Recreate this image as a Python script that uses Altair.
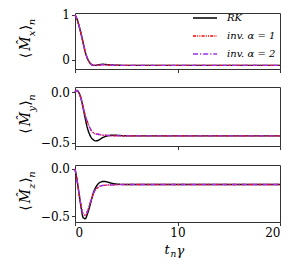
import altair as alt
import pandas as pd

t = [0, 0.2, 0.4, 0.6, 0.8, 1.0, 1.2, 1.4, 1.6, 1.8, 2.0, 2.25, 2.5, 2.75, 3.0,
     3.5, 4.0, 5.0, 6.0, 8.0, 10.0, 12.0, 15.0, 20.0]
series_names = ["RK", "inv. α = 1", "inv. α = 2"]
series_colors = ["#000000", "#ff0000", "#9b30e8"]
series_dashes = [[1, 0], [3, 1.2, 1, 1.2, 1, 1.2], [5, 2, 1.2, 2]]

mx_rk = [1.0, 0.90, 0.75, 0.57, 0.37, 0.18, 0.04, -0.05, -0.10, -0.12, -0.12, -0.11,
         -0.10, -0.095, -0.10, -0.11, -0.115, -0.12, -0.12, -0.12, -0.12, -0.12, -0.12, -0.12]
mx_inv1 = [1.0, 0.90, 0.75, 0.57, 0.37, 0.18, 0.04, -0.05, -0.10, -0.115, -0.12, -0.115,
           -0.11, -0.105, -0.11, -0.115, -0.118, -0.12, -0.12, -0.12, -0.12, -0.12, -0.12, -0.12]
mx_inv2 = [1.0, 0.90, 0.75, 0.57, 0.37, 0.18, 0.04, -0.05, -0.10, -0.115, -0.12, -0.115,
           -0.11, -0.105, -0.11, -0.115, -0.118, -0.12, -0.12, -0.12, -0.12, -0.12, -0.12, -0.12]

my_rk = [0.0, 0.015, -0.01, -0.07, -0.16, -0.26, -0.35, -0.41, -0.45, -0.47, -0.48, -0.475,
         -0.46, -0.445, -0.435, -0.425, -0.425, -0.43, -0.43, -0.43, -0.43, -0.43, -0.43, -0.43]
my_inv1 = [0.0, 0.015, -0.01, -0.065, -0.15, -0.23, -0.29, -0.34, -0.38, -0.40, -0.41, -0.415,
           -0.42, -0.425, -0.425, -0.43, -0.43, -0.43, -0.43, -0.43, -0.43, -0.43, -0.43, -0.43]
my_inv2 = [0.0, 0.015, -0.01, -0.065, -0.15, -0.23, -0.29, -0.34, -0.38, -0.40, -0.41, -0.415,
           -0.42, -0.425, -0.425, -0.43, -0.43, -0.43, -0.43, -0.43, -0.43, -0.43, -0.43, -0.43]

mz_rk = [0.0, -0.12, -0.27, -0.41, -0.515, -0.525, -0.48, -0.41, -0.33, -0.25, -0.20, -0.16,
         -0.14, -0.133, -0.135, -0.15, -0.16, -0.165, -0.165, -0.165, -0.165, -0.165, -0.165, -0.165]
mz_inv1 = [0.0, -0.12, -0.26, -0.39, -0.48, -0.49, -0.45, -0.39, -0.32, -0.26, -0.22, -0.195,
           -0.18, -0.175, -0.172, -0.17, -0.168, -0.165, -0.165, -0.165, -0.165, -0.165, -0.165, -0.165]
mz_inv2 = [0.0, -0.12, -0.26, -0.39, -0.48, -0.49, -0.45, -0.39, -0.32, -0.26, -0.22, -0.195,
           -0.18, -0.175, -0.172, -0.17, -0.168, -0.165, -0.165, -0.165, -0.165, -0.165, -0.165, -0.165]

y_domains = [[-0.2, 1.04], [-0.53, 0.05], [-0.56, 0.04]]
y_ticks = [[0, 1], [0, -0.5], [0, -0.5]]
y_formats = ["d", ".1f", ".1f"]
subs = ["x", "y", "z"]

rows = []
for comp, vals in [("x", (mx_rk, mx_inv1, mx_inv2)),
                   ("y", (my_rk, my_inv1, my_inv2)),
                   ("z", (mz_rk, mz_inv1, mz_inv2))]:
    for name, arr in zip(series_names, vals):
        for ti, vi in zip(t, arr):
            rows.append({"comp": comp, "series": name, "t": ti, "v": vi})
df = pd.DataFrame(rows)

W = 205
HEIGHTS = [56, 59, 57]
SERIF = "DejaVu Serif"


def txt(s, x, y, size=14, italic=False, angle=270):
    return alt.Chart(pd.DataFrame({"s": [s]})).mark_text(
        font=SERIF, fontSize=size, fontStyle="italic" if italic else "normal",
        angle=angle, align="center", baseline="middle", color="black"
    ).encode(text="s:N", x=alt.value(x), y=alt.value(y))


panels = []
for i, comp in enumerate(subs):
    last = i == 2
    first = i == 0
    legend = alt.Legend(
        title=None, orient="none", legendX=123, legendY=-2,
        symbolType="M-2,0H2", symbolSize=144, symbolStrokeWidth=1.5,
        labelFont=SERIF, labelFontStyle="italic", labelFontSize=10,
        labelOffset=15, rowPadding=6, padding=0
    ) if first else None
    lines = alt.Chart(df[df["comp"] == comp]).mark_line(
        strokeWidth=1.4, interpolate="monotone"
    ).encode(
        x=alt.X("t:Q", scale=alt.Scale(domain=[0, 20], nice=False),
                axis=alt.Axis(values=[0, 10, 20], labels=last, title=None,
                              format="d")),
        y=alt.Y("v:Q", scale=alt.Scale(domain=y_domains[i], nice=False, zero=False),
                axis=alt.Axis(values=y_ticks[i], format=y_formats[i], title=None)),
        color=alt.Color("series:N", scale=alt.Scale(domain=series_names, range=series_colors),
                        legend=legend),
        strokeDash=alt.StrokeDash("series:N", scale=alt.Scale(domain=series_names, range=series_dashes),
                                  legend=legend),
    )
    c = HEIGHTS[i] / 2
    xm, xs = -49.5, -43
    labels = [
        txt("⟨", xm, c + 14.5),
        txt("M\u0302", xm, c + 2.5, italic=True),
        txt(comp, xs, c - 7.5, size=10, italic=True),
        txt("⟩", xm, c - 13.5),
        txt("n", xs, c - 19, size=10, italic=True),
    ]
    layer = [lines] + labels
    if last:
        layer += [
            txt("t", 92, HEIGHTS[i] + 28, size=13, italic=True, angle=0),
            txt("n", 98.5, HEIGHTS[i] + 31.5, size=9, italic=True, angle=0),
            txt("γ", 105.5, HEIGHTS[i] + 29, size=13, italic=True, angle=0),
        ]
    panels.append(alt.layer(*layer).properties(width=W, height=HEIGHTS[i]))

chart = alt.vconcat(*panels, spacing=11).resolve_scale(
    color="independent", strokeDash="independent", y="independent"
).properties(
    padding={"left": 10, "top": 0, "right": 5, "bottom": 5}
).configure_view(
    stroke="#333333", strokeWidth=1
).configure_axis(
    labelFont=SERIF, labelFontSize=12, labelColor="black", tickColor="#333333",
    tickSize=3.5, labelPadding=2, domain=False, grid=False
)

chart.save("out.html", embed_options={"renderer": "svg", "actions": False})
